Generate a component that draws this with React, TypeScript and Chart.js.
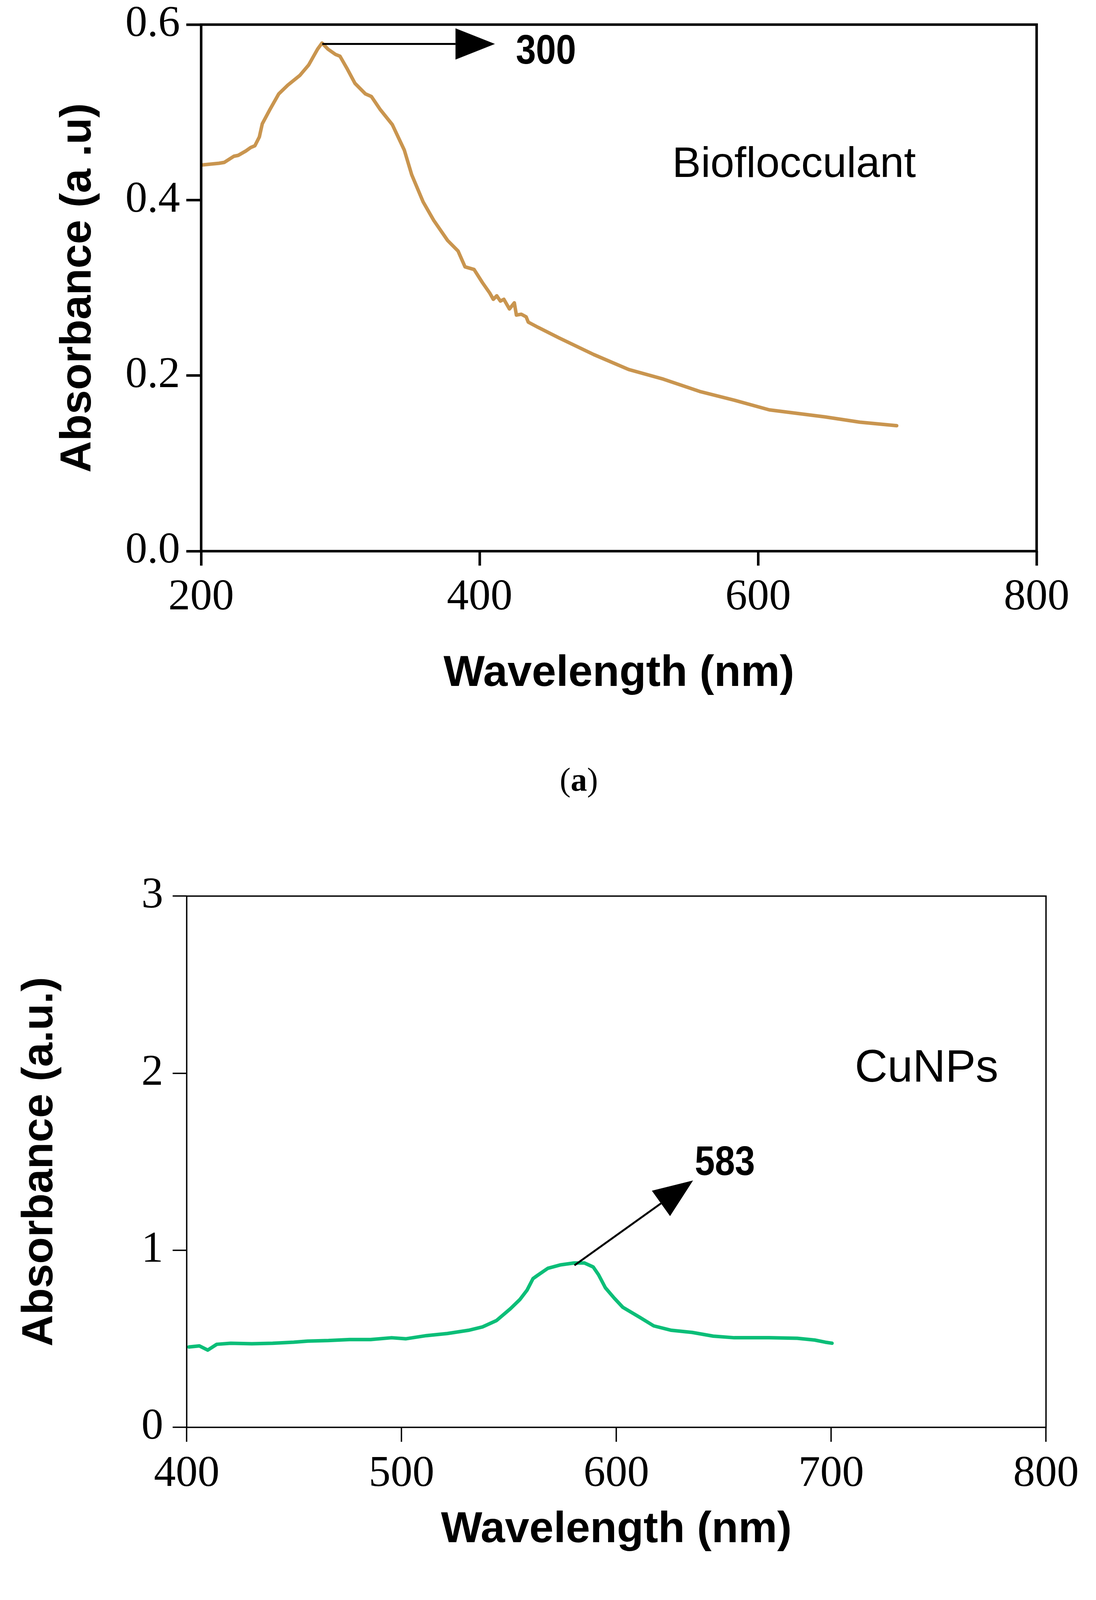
import React, { useEffect, useRef } from "react";
import { Chart, registerables } from "chart.js";

Chart.register(...registerables);

// ---------- Data: panel (a) Bioflocculant ----------
const waveA = [200, 212.8, 216.6, 223.5, 226.6, 232.1, 235.6, 238.6, 241.8, 243.9, 249.3, 255.7, 262.2, 270.8, 277.2, 283.6, 286.8, 291.1, 296.5, 299.7, 305.1, 310.5, 318, 322.3, 328.7, 337.3, 345.9, 351.2, 359.4, 367, 377, 384.5, 389.5, 396, 402, 407.3, 409.8, 412.3, 414.9, 417.4, 421.4, 424.9, 426.4, 429.9, 433.4, 434.9, 442, 457, 482, 507, 532, 558, 583, 608, 623, 648, 673, 699.5];
const absA = [0.44, 0.442, 0.443, 0.45, 0.451, 0.456, 0.46, 0.462, 0.472, 0.487, 0.503, 0.521, 0.531, 0.542, 0.554, 0.572, 0.579, 0.572, 0.566, 0.564, 0.549, 0.533, 0.521, 0.518, 0.503, 0.486, 0.457, 0.429, 0.398, 0.377, 0.354, 0.342, 0.324, 0.321, 0.306, 0.294, 0.287, 0.291, 0.285, 0.287, 0.276, 0.283, 0.269, 0.27, 0.267, 0.261, 0.255, 0.243, 0.224, 0.207, 0.196, 0.182, 0.172, 0.161, 0.158, 0.153, 0.147, 0.143];
const xTicksA = [200, 400, 600, 800];
const yTicksA = [0, 0.2, 0.4, 0.6];
const arrowA = [287, 0.578, 411, 0.578]; // from x, from y, to x, to y
const peakLabelA = { text: "300", x: 426, y: 0.5555 };
const sampleLabelA = { text: "Bioflocculant", x: 538.3, y: 0.4264 };

// ---------- Data: panel (b) CuNPs ----------
const waveB = [401, 405.9, 409.8, 414, 420.5, 430.3, 440, 449.8, 456.3, 466, 475.8, 485.6, 495.4, 501.9, 511.6, 521.4, 531.2, 537.7, 544.2, 550.7, 555.1, 558.4, 561.2, 563.3, 568.1, 573.8, 580.3, 585.2, 589.2, 591.7, 594.9, 599, 603, 610.9, 617.4, 625.6, 635.3, 645.1, 654.9, 671.1, 684.2, 692.3, 697.2, 700.4];
const absB = [0.454, 0.46, 0.436, 0.469, 0.475, 0.472, 0.475, 0.481, 0.487, 0.49, 0.496, 0.496, 0.506, 0.5, 0.518, 0.53, 0.548, 0.567, 0.603, 0.67, 0.722, 0.774, 0.84, 0.858, 0.898, 0.917, 0.928, 0.928, 0.906, 0.862, 0.788, 0.73, 0.678, 0.621, 0.573, 0.548, 0.536, 0.515, 0.506, 0.506, 0.503, 0.493, 0.481, 0.475];
const xTicksB = [400, 500, 600, 700, 800];
const yTicksB = [0, 1, 2, 3];
const arrowB = [580.5, 0.915, 635.7, 1.394];
const peakLabelB = { text: "583", x: 636.5, y: 1.425 };
const sampleLabelB = { text: "CuNPs", x: 711, y: 1.952 };

const SANS = '"Liberation Sans", Arial, Helvetica, sans-serif';
const SERIF = '"Liberation Serif", "Times New Roman", Times, serif';

type Spec = {
  waves: number[];
  abs: number[];
  color: string;
  xTicks: number[];
  yTicks: number[];
  yDecimals: number;
  yTitle: string;
  arrow: number[];
  peakLabel: { text: string; x: number; y: number };
  sampleLabel: { text: string; x: number; y: number };
  sampleFont: number;
  height: number;
  padTop: number;
  padRight: number;
  yWidth: number;
  xHeight: number;
  yTitlePad: number;
  xTitlePad: number;
  frameWidth: number;
  yTickLen: number;
  xTickLen: number;
  yTickPad: number;
  xTickPad: number;
  arrowWidth: number;
};

function drawArrow(ctx: CanvasRenderingContext2D, x1: number, y1: number, x2: number, y2: number, lw: number) {
  const headLen = 101;
  const headHalf = 40;
  const ang = Math.atan2(y2 - y1, x2 - x1);
  const bx = x2 - headLen * Math.cos(ang);
  const by = y2 - headLen * Math.sin(ang);
  ctx.save();
  ctx.strokeStyle = "#000";
  ctx.fillStyle = "#000";
  ctx.lineWidth = lw;
  ctx.lineCap = "butt";
  ctx.beginPath();
  ctx.moveTo(x1, y1);
  ctx.lineTo(bx, by);
  ctx.stroke();
  ctx.beginPath();
  ctx.moveTo(x2, y2);
  ctx.lineTo(bx + headHalf * Math.sin(ang), by - headHalf * Math.cos(ang));
  ctx.lineTo(bx - headHalf * Math.sin(ang), by + headHalf * Math.cos(ang));
  ctx.closePath();
  ctx.fill();
  ctx.restore();
}

function makeConfig(s: Spec): any {
  const annotate = {
    id: "annotate",
    afterDatasetsDraw(chart: any) {
      const { ctx, chartArea, scales } = chart;
      const xs = scales.x;
      const ys = scales.y;
      // frame
      ctx.save();
      ctx.strokeStyle = "#000";
      ctx.lineWidth = s.frameWidth;
      ctx.strokeRect(chartArea.left, chartArea.top, chartArea.right - chartArea.left, chartArea.bottom - chartArea.top);
      ctx.restore();
      // arrow
      drawArrow(
        ctx,
        xs.getPixelForValue(s.arrow[0]),
        ys.getPixelForValue(s.arrow[1]),
        xs.getPixelForValue(s.arrow[2]),
        ys.getPixelForValue(s.arrow[3]),
        s.arrowWidth
      );
      // peak label (condensed bold)
      ctx.save();
      ctx.fillStyle = "#000";
      ctx.textBaseline = "alphabetic";
      ctx.textAlign = "left";
      ctx.font = `bold 105px ${SANS}`;
      ctx.translate(xs.getPixelForValue(s.peakLabel.x), ys.getPixelForValue(s.peakLabel.y));
      ctx.scale(0.88, 1);
      ctx.fillText(s.peakLabel.text, 0, 0);
      ctx.restore();
      // sample label
      ctx.save();
      ctx.fillStyle = "#000";
      ctx.textBaseline = "alphabetic";
      ctx.textAlign = "left";
      ctx.font = `${s.sampleFont}px ${SANS}`;
      ctx.fillText(s.sampleLabel.text, xs.getPixelForValue(s.sampleLabel.x), ys.getPixelForValue(s.sampleLabel.y));
      ctx.restore();
    },
  };

  const zeroPad = (sc: any) => {
    sc.paddingLeft = 0;
    sc.paddingRight = 0;
    sc.paddingTop = 0;
    sc.paddingBottom = 0;
  };

  return {
    type: "line",
    data: {
      datasets: [
        {
          data: s.waves.map((w, i) => ({ x: w, y: s.abs[i] })),
          borderColor: s.color,
          borderWidth: 9,
          pointRadius: 0,
          tension: 0,
          fill: false,
          borderJoinStyle: "round",
          borderCapStyle: "round",
        },
      ],
    },
    options: {
      animation: false,
      responsive: false,
      devicePixelRatio: 1,
      events: [],
      layout: { padding: { left: 0, top: s.padTop, right: s.padRight, bottom: 0 } },
      plugins: { legend: { display: false }, tooltip: { enabled: false }, title: { display: false } },
      scales: {
        x: {
          type: "linear",
          min: s.xTicks[0],
          max: s.xTicks[s.xTicks.length - 1],
          afterBuildTicks: (sc: any) => {
            sc.ticks = s.xTicks.map((v) => ({ value: v }));
          },
          afterFit: (sc: any) => {
            sc.height = s.xHeight;
            zeroPad(sc);
          },
          border: { display: false },
          grid: {
            drawOnChartArea: false,
            drawTicks: true,
            tickLength: s.xTickLen,
            tickWidth: s.frameWidth,
            tickColor: "#000",
            color: "#000",
            lineWidth: s.frameWidth,
          },
          ticks: {
            autoSkip: false,
            maxRotation: 0,
            minRotation: 0,
            padding: s.xTickPad,
            color: "#000",
            font: { family: SERIF, size: 112 },
            callback: (v: any) => String(v),
          },
          title: {
            display: true,
            text: "Wavelength (nm)",
            color: "#000",
            font: { family: SANS, size: 112, weight: "bold" },
            padding: { top: 0, bottom: s.xTitlePad },
          },
        },
        y: {
          type: "linear",
          min: s.yTicks[0],
          max: s.yTicks[s.yTicks.length - 1],
          afterBuildTicks: (sc: any) => {
            sc.ticks = s.yTicks.map((v) => ({ value: v }));
          },
          afterFit: (sc: any) => {
            sc.width = s.yWidth;
            zeroPad(sc);
          },
          border: { display: false },
          grid: {
            drawOnChartArea: false,
            drawTicks: true,
            tickLength: s.yTickLen,
            tickWidth: s.frameWidth,
            tickColor: "#000",
            color: "#000",
            lineWidth: s.frameWidth,
          },
          ticks: {
            padding: s.yTickPad,
            color: "#000",
            font: { family: SERIF, size: 112 },
            callback: (v: any) => Number(v).toFixed(s.yDecimals),
          },
          title: {
            display: true,
            text: s.yTitle,
            color: "#000",
            font: { family: SANS, size: 112, weight: "bold" },
            padding: { top: s.yTitlePad, bottom: 0 },
          },
        },
      },
    },
    plugins: [annotate],
  };
}

const specA: Spec = {
  waves: waveA,
  abs: absA,
  color: "#C9954F",
  xTicks: xTicksA,
  yTicks: yTicksA,
  yDecimals: 1,
  yTitle: "Absorbance (a .u)",
  arrow: arrowA,
  peakLabel: peakLabelA,
  sampleLabel: sampleLabelA,
  sampleFont: 110,
  height: 2100,
  padTop: 63,
  padRight: 152,
  yWidth: 515,
  xHeight: 689,
  yTitlePad: 134,
  xTitlePad: 308,
  frameWidth: 6.5,
  yTickLen: 38,
  xTickLen: 37,
  yTickPad: 16,
  xTickPad: 15,
  arrowWidth: 5,
};

const specB: Spec = {
  waves: waveB,
  abs: absB,
  color: "#0BBE78",
  xTicks: xTicksB,
  yTicks: yTicksB,
  yDecimals: 0,
  yTitle: "Absorbance (a.u.)",
  arrow: arrowB,
  peakLabel: peakLabelB,
  sampleLabel: sampleLabelB,
  sampleFont: 116,
  height: 2162,
  padTop: 194,
  padRight: 128,
  yWidth: 478,
  xHeight: 608,
  yTitlePad: 36,
  xTitlePad: 278,
  frameWidth: 3.5,
  yTickLen: 36,
  xTickLen: 37,
  yTickPad: 24,
  xTickPad: 16,
  arrowWidth: 5,
};

const captionStyle = (cy: number): React.CSSProperties => ({
  position: "absolute",
  left: 1482,
  top: cy,
  transform: "translate(-50%, -50%)",
  fontFamily: SERIF,
  fontSize: 84,
  lineHeight: 1,
  color: "#000",
  whiteSpace: "nowrap",
});

export default function App() {
  const refA = useRef<HTMLCanvasElement>(null);
  const refB = useRef<HTMLCanvasElement>(null);

  useEffect(() => {
    const a = new Chart(refA.current as HTMLCanvasElement, makeConfig(specA));
    const b = new Chart(refB.current as HTMLCanvasElement, makeConfig(specB));
    return () => {
      a.destroy();
      b.destroy();
    };
  }, []);

  return (
    <div style={{ position: "absolute", left: 0, top: 0, width: 2806, height: 4262, background: "#fff", overflow: "hidden" }}>
      <canvas ref={refA} width={2806} height={specA.height} style={{ position: "absolute", left: 0, top: 0 }} />
      <canvas ref={refB} width={2806} height={specB.height} style={{ position: "absolute", left: 0, top: 2100 }} />
      <div style={captionStyle(1996)}>
        (<b>a</b>)
      </div>
      <div style={captionStyle(4188)}>
        (<b>b</b>)
      </div>
    </div>
  );
}
